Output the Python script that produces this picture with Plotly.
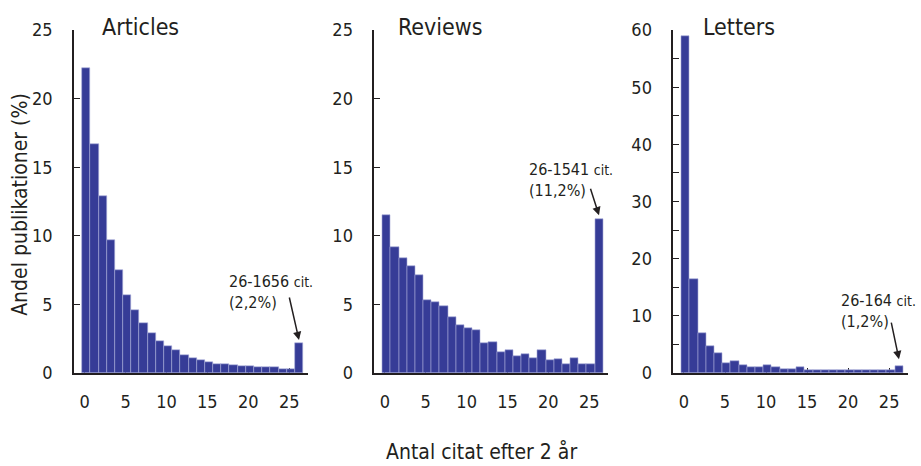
import plotly.graph_objects as go

# Citation bins: 0..25 citations, last bin = 26 or more
bins = list(range(27))
tick_vals = [0, 5, 10, 15, 20, 25]

articles = [22.2, 16.7, 12.9, 9.7, 7.5, 5.7, 4.6, 3.6, 2.9, 2.35,
            1.95, 1.65, 1.3, 1.1, 0.9, 0.8, 0.68, 0.68, 0.6, 0.5,
            0.5, 0.4, 0.4, 0.4, 0.3, 0.3, 2.2]
reviews = [11.5, 9.15, 8.35, 7.8, 7.15, 5.3, 5.2, 4.85, 4.05, 3.5,
           3.25, 3.15, 2.15, 2.25, 1.55, 1.65, 1.25, 1.4, 1.1, 1.65,
           0.9, 1.0, 0.67, 1.1, 0.67, 0.67, 11.2]
letters = [59.0, 16.5, 7.0, 4.7, 3.5, 1.7, 2.0, 1.45, 1.0, 1.0,
           1.3, 1.0, 0.7, 0.7, 1.0, 0.45, 0.45, 0.45, 0.45, 0.45,
           0.45, 0.45, 0.45, 0.45, 0.45, 0.45, 1.2]

panel_titles = ["Articles", "Reviews", "Letters"]
top_labels = [("26-1656", "(2,2%)"), ("26-1541", "(11,2%)"), ("26-164", "(1,2%)")]
y_title = "Andel publikationer (%)"
x_title = "Antal citat efter 2 år"

FONT = "Liberation Sans Narrow, DejaVu Sans Condensed, Arial Narrow, sans-serif"
INK = "#231f20"
BAR = "#363c97"
W, H = 921, 466

series = [articles, reviews, letters]
x_dom = [(74, 308), (374.3, 608), (673.3, 908)]
y_dom = (20, 379)
y_max = [25, 25, 60]
y_dtick = [5, 5, 10]
# annotation text anchor (data units) and arrow tail offset (px)
text_pos = [(17.4, 7.5), (17.35, 15.7), (18.9, 14.75)]
arrow_tail = [(-10, -44), (-9, -28), (-8, -38)]
arrow_pad = [0.2, 0.3, 1.2]

fig = go.Figure()
for k, vals in enumerate(series):
    ax_id = "" if k == 0 else str(k + 1)
    fig.add_trace(go.Bar(
        x=bins, y=vals, width=1, offset=-0.3,
        marker=dict(color=BAR, line=dict(color="#a6aad6", width=0.6)),
        xaxis="x" + ax_id, yaxis="y" + ax_id, showlegend=False,
    ))
    x0, x1 = x_dom[k]
    fig.layout["xaxis" + ax_id] = dict(
        domain=[x0 / W, x1 / W], anchor="y" + ax_id,
        range=[-1.3, 27.3], tickvals=tick_vals,
        ticks="inside", ticklen=5, tickwidth=1.3, tickcolor=INK,
        showline=True, linecolor=INK, linewidth=1.5,
        showgrid=False, zeroline=False, layer="below traces",
        tickfont=dict(family=FONT, size=18, color=INK), ticklabelstandoff=12,
    )
    yax = dict(
        domain=[1 - y_dom[1] / H, 1 - y_dom[0] / H], anchor="x" + ax_id,
        range=[0, y_max[k]], dtick=y_dtick[k],
        ticks="inside", ticklen=6, tickwidth=1.3, tickcolor=INK,
        showline=True, linecolor=INK, linewidth=1.5,
        showgrid=False, zeroline=False, layer="below traces",
        tickfont=dict(family=FONT, size=18, color=INK), ticklabelstandoff=16,
    )
    if k == 2:
        yax["minor"] = dict(dtick=5, ticks="inside", ticklen=6, tickwidth=1.3, tickcolor=INK)
    fig.layout["yaxis" + ax_id] = yax

    # panel title
    fig.add_annotation(
        x=(x0 + 66) / W, y=1 - 17 / H, xref="paper", yref="paper",
        text=panel_titles[k], showarrow=False, xanchor="center", yanchor="middle",
        font=dict(family=FONT, size=23, color=INK),
    )
    # open-ended bin label
    tx, ty = text_pos[k]
    main, pct = top_labels[k]
    fig.add_annotation(
        x=tx, y=ty, xref="x" + ax_id, yref="y" + ax_id,
        text=f"{main} <span style='font-size:14px'>cit.</span><br>{pct}",
        showarrow=False, xanchor="left", yanchor="top", align="left",
        font=dict(family=FONT, size=16, color=INK),
    )
    # arrow pointing at the open-ended bin
    axp, ayp = arrow_tail[k]
    fig.add_annotation(
        x=26.2, y=vals[-1] + arrow_pad[k], xref="x" + ax_id, yref="y" + ax_id,
        ax=axp, ay=ayp, axref="pixel", ayref="pixel", text="",
        showarrow=True, arrowhead=2, arrowsize=1.1, arrowwidth=1.5, arrowcolor=INK,
    )

fig.add_annotation(
    x=20 / W, y=1 - 203 / H, xref="paper", yref="paper",
    text=y_title, textangle=-90, showarrow=False,
    xanchor="center", yanchor="middle",
    font=dict(family=FONT, size=21, color=INK),
)
fig.add_annotation(
    x=481 / W, y=1 - 461 / H, xref="paper", yref="paper",
    text=x_title, showarrow=False, xanchor="center", yanchor="middle",
    font=dict(family=FONT, size=21, color=INK),
)

fig.update_layout(
    width=W, height=H, margin=dict(l=0, r=0, t=0, b=0),
    plot_bgcolor="white", paper_bgcolor="white", bargap=0,
)
fig.write_html("out.html")
